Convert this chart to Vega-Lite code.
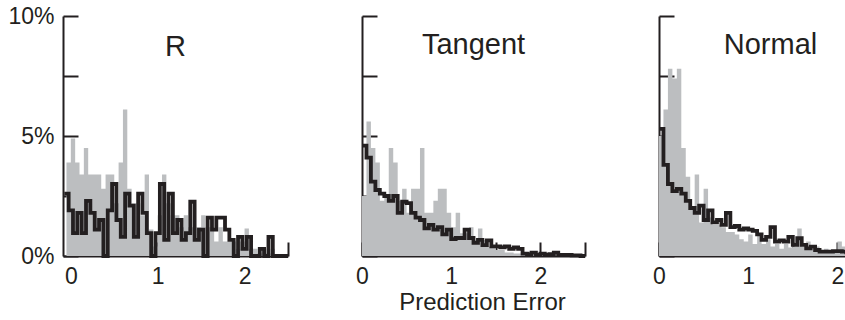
{
  "$schema": "https://vega.github.io/schema/vega-lite/v6.json",
  "background": "white",
  "padding": {"left": 7, "top": 5, "right": 0, "bottom": 0},
  "config": {
    "view": {"stroke": null},
    "font": "Liberation Sans",
    "axis": {
      "grid": false, "zindex": 1,
      "domainColor": "#231f20", "domainWidth": 2,
      "tickColor": "#231f20", "tickWidth": 2,
      "labelColor": "#231f20", "labelFont": "Liberation Sans", "labelFontSize": 23,
      "labelFlush": false, "labelOverlap": false,
      "titleColor": "#231f20", "titleFont": "Liberation Sans", "titleFontSize": 24, "titleFontWeight": "normal"
    },
    "axisY": {"minExtent": 0},
    "title": {"font": "Liberation Sans", "fontSize": 29, "fontWeight": "normal", "color": "#231f20", "anchor": "middle", "baseline": "alphabetic"}
  },
  "datasets": {
    "hist": [
      {"p":"R","s":"g","x":-0.05,"y":3.9},{"p":"R","s":"g","x":0,"y":4.9},{"p":"R","s":"g","x":0.05,"y":3.9},{"p":"R","s":"g","x":0.1,"y":3.4},{"p":"R","s":"g","x":0.15,"y":4.5},{"p":"R","s":"g","x":0.2,"y":3.4},{"p":"R","s":"g","x":0.25,"y":3.4},{"p":"R","s":"g","x":0.3,"y":3.4},{"p":"R","s":"g","x":0.35,"y":2.8},{"p":"R","s":"g","x":0.4,"y":3.4},
      {"p":"R","s":"g","x":0.45,"y":3.4},{"p":"R","s":"g","x":0.5,"y":2.2},{"p":"R","s":"g","x":0.55,"y":3.9},{"p":"R","s":"g","x":0.6,"y":6.1},{"p":"R","s":"g","x":0.65,"y":2.8},{"p":"R","s":"g","x":0.7,"y":2.2},{"p":"R","s":"g","x":0.75,"y":2.2},{"p":"R","s":"g","x":0.8,"y":1.7},{"p":"R","s":"g","x":0.85,"y":3.4},{"p":"R","s":"g","x":0.9,"y":1.1},
      {"p":"R","s":"g","x":0.95,"y":0.4},{"p":"R","s":"g","x":1.0,"y":1.7},{"p":"R","s":"g","x":1.05,"y":3.4},{"p":"R","s":"g","x":1.1,"y":2.2},{"p":"R","s":"g","x":1.15,"y":1.7},{"p":"R","s":"g","x":1.2,"y":1.7},{"p":"R","s":"g","x":1.25,"y":1.2},{"p":"R","s":"g","x":1.3,"y":1.7},{"p":"R","s":"g","x":1.35,"y":1.2},{"p":"R","s":"g","x":1.4,"y":1.2},
      {"p":"R","s":"g","x":1.45,"y":1.2},{"p":"R","s":"g","x":1.5,"y":1.7},{"p":"R","s":"g","x":1.55,"y":1.2},{"p":"R","s":"g","x":1.6,"y":1.2},{"p":"R","s":"g","x":1.65,"y":0.6},{"p":"R","s":"g","x":1.7,"y":1.2},{"p":"R","s":"g","x":1.75,"y":0.6},{"p":"R","s":"g","x":1.8,"y":0.6},{"p":"R","s":"g","x":1.85,"y":0.6},{"p":"R","s":"g","x":1.9,"y":0.3},
      {"p":"R","s":"g","x":1.95,"y":0.6},{"p":"R","s":"g","x":2.0,"y":1.15},{"p":"R","s":"g","x":2.05,"y":0.3},{"p":"R","s":"g","x":2.1,"y":0.3},{"p":"R","s":"g","x":2.15,"y":0.1},{"p":"R","s":"g","x":2.2,"y":0.3},{"p":"R","s":"g","x":2.25,"y":0.1},{"p":"R","s":"g","x":2.3,"y":0.3},{"p":"R","s":"g","x":2.35,"y":0},{"p":"R","s":"g","x":2.4,"y":0},
      {"p":"R","s":"g","x":2.45,"y":0},{"p":"R","s":"g","x":2.5,"y":0},

      {"p":"R","s":"k","x":-0.075,"y":2.6},{"p":"R","s":"k","x":-0.025,"y":1.9},{"p":"R","s":"k","x":0.025,"y":0.95},{"p":"R","s":"k","x":0.075,"y":1.8},{"p":"R","s":"k","x":0.125,"y":0.95},{"p":"R","s":"k","x":0.175,"y":2.3},{"p":"R","s":"k","x":0.225,"y":1.8},{"p":"R","s":"k","x":0.275,"y":1.1},{"p":"R","s":"k","x":0.325,"y":1.5},{"p":"R","s":"k","x":0.375,"y":0},
      {"p":"R","s":"k","x":0.425,"y":1.9},{"p":"R","s":"k","x":0.475,"y":3.0},{"p":"R","s":"k","x":0.525,"y":1.5},{"p":"R","s":"k","x":0.575,"y":0.8},{"p":"R","s":"k","x":0.625,"y":2.6},{"p":"R","s":"k","x":0.675,"y":2.1},{"p":"R","s":"k","x":0.725,"y":0.8},{"p":"R","s":"k","x":0.775,"y":2.6},{"p":"R","s":"k","x":0.825,"y":1.8},{"p":"R","s":"k","x":0.875,"y":0.95},
      {"p":"R","s":"k","x":0.925,"y":0},{"p":"R","s":"k","x":0.975,"y":0.95},{"p":"R","s":"k","x":1.025,"y":3.0},{"p":"R","s":"k","x":1.075,"y":0.67},{"p":"R","s":"k","x":1.125,"y":2.6},{"p":"R","s":"k","x":1.175,"y":0.95},{"p":"R","s":"k","x":1.225,"y":1.5},{"p":"R","s":"k","x":1.275,"y":0.67},{"p":"R","s":"k","x":1.325,"y":0.95},{"p":"R","s":"k","x":1.375,"y":2.26},
      {"p":"R","s":"k","x":1.425,"y":0.67},{"p":"R","s":"k","x":1.475,"y":1.1},{"p":"R","s":"k","x":1.525,"y":0},{"p":"R","s":"k","x":1.575,"y":1.6},{"p":"R","s":"k","x":1.625,"y":1.1},{"p":"R","s":"k","x":1.675,"y":1.6},{"p":"R","s":"k","x":1.725,"y":1.6},{"p":"R","s":"k","x":1.775,"y":1.1},{"p":"R","s":"k","x":1.825,"y":0.67},{"p":"R","s":"k","x":1.875,"y":0},
      {"p":"R","s":"k","x":1.925,"y":0.8},{"p":"R","s":"k","x":1.975,"y":0.3},{"p":"R","s":"k","x":2.025,"y":0.8},{"p":"R","s":"k","x":2.075,"y":0},{"p":"R","s":"k","x":2.125,"y":0},{"p":"R","s":"k","x":2.175,"y":0.3},{"p":"R","s":"k","x":2.225,"y":0},{"p":"R","s":"k","x":2.275,"y":0.8},{"p":"R","s":"k","x":2.325,"y":0},{"p":"R","s":"k","x":2.375,"y":0},
      {"p":"R","s":"k","x":2.425,"y":0},{"p":"R","s":"k","x":2.5,"y":0},

      {"p":"T","s":"g","x":0,"y":2.5},{"p":"T","s":"g","x":0.05,"y":5.6},{"p":"T","s":"g","x":0.1,"y":4.5},{"p":"T","s":"g","x":0.15,"y":3.9},{"p":"T","s":"g","x":0.2,"y":2.3},{"p":"T","s":"g","x":0.25,"y":2.5},{"p":"T","s":"g","x":0.3,"y":4.5},{"p":"T","s":"g","x":0.35,"y":3.9},{"p":"T","s":"g","x":0.4,"y":2.3},{"p":"T","s":"g","x":0.45,"y":2.8},
      {"p":"T","s":"g","x":0.5,"y":1.8},{"p":"T","s":"g","x":0.55,"y":2.8},{"p":"T","s":"g","x":0.6,"y":2.8},{"p":"T","s":"g","x":0.65,"y":4.5},{"p":"T","s":"g","x":0.7,"y":1.8},{"p":"T","s":"g","x":0.75,"y":1.8},{"p":"T","s":"g","x":0.8,"y":2.3},{"p":"T","s":"g","x":0.85,"y":2.8},{"p":"T","s":"g","x":0.9,"y":2.8},{"p":"T","s":"g","x":0.95,"y":1.8},
      {"p":"T","s":"g","x":1.0,"y":1.2},{"p":"T","s":"g","x":1.05,"y":1.8},{"p":"T","s":"g","x":1.1,"y":0.95},{"p":"T","s":"g","x":1.15,"y":0.95},{"p":"T","s":"g","x":1.2,"y":1.2},{"p":"T","s":"g","x":1.25,"y":0.67},{"p":"T","s":"g","x":1.3,"y":1.15},{"p":"T","s":"g","x":1.35,"y":0.67},{"p":"T","s":"g","x":1.4,"y":0.4},{"p":"T","s":"g","x":1.45,"y":0.4},
      {"p":"T","s":"g","x":1.5,"y":0.25},{"p":"T","s":"g","x":1.55,"y":0.25},{"p":"T","s":"g","x":1.6,"y":0.15},{"p":"T","s":"g","x":1.65,"y":0.15},{"p":"T","s":"g","x":1.7,"y":0.1},{"p":"T","s":"g","x":1.75,"y":0.1},{"p":"T","s":"g","x":1.8,"y":0.05},{"p":"T","s":"g","x":1.85,"y":0.1},{"p":"T","s":"g","x":1.9,"y":0.05},{"p":"T","s":"g","x":1.95,"y":0},
      {"p":"T","s":"g","x":2.0,"y":0.05},{"p":"T","s":"g","x":2.05,"y":0},{"p":"T","s":"g","x":2.1,"y":0},{"p":"T","s":"g","x":2.15,"y":0},{"p":"T","s":"g","x":2.2,"y":0},{"p":"T","s":"g","x":2.25,"y":0},{"p":"T","s":"g","x":2.3,"y":0},{"p":"T","s":"g","x":2.35,"y":0},{"p":"T","s":"g","x":2.4,"y":0},{"p":"T","s":"g","x":2.45,"y":0},
      {"p":"T","s":"g","x":2.5,"y":0},

      {"p":"T","s":"k","x":0,"y":4.6},{"p":"T","s":"k","x":0.05,"y":4.1},{"p":"T","s":"k","x":0.1,"y":3.1},{"p":"T","s":"k","x":0.15,"y":2.75},{"p":"T","s":"k","x":0.2,"y":2.6},{"p":"T","s":"k","x":0.25,"y":2.5},{"p":"T","s":"k","x":0.3,"y":2.3},{"p":"T","s":"k","x":0.35,"y":2.5},{"p":"T","s":"k","x":0.4,"y":1.8},{"p":"T","s":"k","x":0.45,"y":2.26},
      {"p":"T","s":"k","x":0.5,"y":2.2},{"p":"T","s":"k","x":0.55,"y":1.8},{"p":"T","s":"k","x":0.6,"y":1.6},{"p":"T","s":"k","x":0.65,"y":1.5},{"p":"T","s":"k","x":0.7,"y":1.15},{"p":"T","s":"k","x":0.75,"y":1.3},{"p":"T","s":"k","x":0.8,"y":1.1},{"p":"T","s":"k","x":0.85,"y":1.2},{"p":"T","s":"k","x":0.9,"y":0.9},{"p":"T","s":"k","x":0.95,"y":1.1},
      {"p":"T","s":"k","x":1.0,"y":0.7},{"p":"T","s":"k","x":1.05,"y":0.75},{"p":"T","s":"k","x":1.1,"y":0.75},{"p":"T","s":"k","x":1.15,"y":1.1},{"p":"T","s":"k","x":1.2,"y":0.75},{"p":"T","s":"k","x":1.25,"y":0.55},{"p":"T","s":"k","x":1.3,"y":0.67},{"p":"T","s":"k","x":1.35,"y":0.45},{"p":"T","s":"k","x":1.4,"y":0.65},{"p":"T","s":"k","x":1.45,"y":0.4},
      {"p":"T","s":"k","x":1.5,"y":0.4},{"p":"T","s":"k","x":1.55,"y":0.36},{"p":"T","s":"k","x":1.6,"y":0.4},{"p":"T","s":"k","x":1.65,"y":0.3},{"p":"T","s":"k","x":1.7,"y":0.36},{"p":"T","s":"k","x":1.75,"y":0.3},{"p":"T","s":"k","x":1.8,"y":0.1},{"p":"T","s":"k","x":1.85,"y":0.08},{"p":"T","s":"k","x":1.9,"y":0.14},{"p":"T","s":"k","x":1.95,"y":0.05},
      {"p":"T","s":"k","x":2.0,"y":0.1},{"p":"T","s":"k","x":2.05,"y":0.05},{"p":"T","s":"k","x":2.1,"y":0.08},{"p":"T","s":"k","x":2.15,"y":0.14},{"p":"T","s":"k","x":2.2,"y":0.05},{"p":"T","s":"k","x":2.25,"y":0.05},{"p":"T","s":"k","x":2.3,"y":0.05},{"p":"T","s":"k","x":2.35,"y":0.03},{"p":"T","s":"k","x":2.4,"y":0.03},{"p":"T","s":"k","x":2.45,"y":0},
      {"p":"T","s":"k","x":2.5,"y":0},

      {"p":"N","s":"g","x":0,"y":5.0},{"p":"N","s":"g","x":0.05,"y":6.1},{"p":"N","s":"g","x":0.1,"y":7.8},{"p":"N","s":"g","x":0.15,"y":7.4},{"p":"N","s":"g","x":0.2,"y":7.8},{"p":"N","s":"g","x":0.25,"y":4.5},{"p":"N","s":"g","x":0.3,"y":3.3},{"p":"N","s":"g","x":0.35,"y":2.0},{"p":"N","s":"g","x":0.4,"y":3.4},{"p":"N","s":"g","x":0.45,"y":1.4},
      {"p":"N","s":"g","x":0.5,"y":2.8},{"p":"N","s":"g","x":0.55,"y":1.6},{"p":"N","s":"g","x":0.6,"y":1.3},{"p":"N","s":"g","x":0.65,"y":1.3},{"p":"N","s":"g","x":0.7,"y":1.2},{"p":"N","s":"g","x":0.75,"y":1.0},{"p":"N","s":"g","x":0.8,"y":1.0},{"p":"N","s":"g","x":0.85,"y":0.9},{"p":"N","s":"g","x":0.9,"y":0.7},{"p":"N","s":"g","x":0.95,"y":0.6},
      {"p":"N","s":"g","x":1.0,"y":0.9},{"p":"N","s":"g","x":1.05,"y":0.5},{"p":"N","s":"g","x":1.1,"y":0.9},{"p":"N","s":"g","x":1.15,"y":0.5},{"p":"N","s":"g","x":1.2,"y":0.7},{"p":"N","s":"g","x":1.25,"y":0.4},{"p":"N","s":"g","x":1.3,"y":0.5},{"p":"N","s":"g","x":1.35,"y":0.3},{"p":"N","s":"g","x":1.4,"y":0.5},{"p":"N","s":"g","x":1.45,"y":0.35},
      {"p":"N","s":"g","x":1.5,"y":0.4},{"p":"N","s":"g","x":1.55,"y":1.15},{"p":"N","s":"g","x":1.6,"y":0.4},{"p":"N","s":"g","x":1.65,"y":0.6},{"p":"N","s":"g","x":1.7,"y":0.3},{"p":"N","s":"g","x":1.75,"y":0.4},{"p":"N","s":"g","x":1.8,"y":0.2},{"p":"N","s":"g","x":1.85,"y":0.3},{"p":"N","s":"g","x":1.9,"y":0.2},{"p":"N","s":"g","x":1.95,"y":0.15},
      {"p":"N","s":"g","x":2.0,"y":0.6},{"p":"N","s":"g","x":2.05,"y":0.4},{"p":"N","s":"g","x":2.1,"y":0.2},{"p":"N","s":"g","x":2.15,"y":0.15},{"p":"N","s":"g","x":2.2,"y":0.1},{"p":"N","s":"g","x":2.25,"y":0.1},{"p":"N","s":"g","x":2.3,"y":0.1},{"p":"N","s":"g","x":2.35,"y":0.1},{"p":"N","s":"g","x":2.4,"y":0.1},{"p":"N","s":"g","x":2.45,"y":0.1},
      {"p":"N","s":"g","x":2.5,"y":0.1},

      {"p":"N","s":"k","x":0,"y":5.3},{"p":"N","s":"k","x":0.05,"y":3.8},{"p":"N","s":"k","x":0.1,"y":3.0},{"p":"N","s":"k","x":0.15,"y":2.7},{"p":"N","s":"k","x":0.2,"y":2.8},{"p":"N","s":"k","x":0.25,"y":2.6},{"p":"N","s":"k","x":0.3,"y":2.3},{"p":"N","s":"k","x":0.35,"y":2.0},{"p":"N","s":"k","x":0.4,"y":1.8},{"p":"N","s":"k","x":0.45,"y":2.1},
      {"p":"N","s":"k","x":0.5,"y":1.5},{"p":"N","s":"k","x":0.55,"y":1.9},{"p":"N","s":"k","x":0.6,"y":1.4},{"p":"N","s":"k","x":0.65,"y":1.5},{"p":"N","s":"k","x":0.7,"y":1.3},{"p":"N","s":"k","x":0.75,"y":1.8},{"p":"N","s":"k","x":0.8,"y":1.2},{"p":"N","s":"k","x":0.85,"y":1.25},{"p":"N","s":"k","x":0.9,"y":1.1},{"p":"N","s":"k","x":0.95,"y":1.15},
      {"p":"N","s":"k","x":1.0,"y":1.1},{"p":"N","s":"k","x":1.05,"y":1.05},{"p":"N","s":"k","x":1.1,"y":0.9},{"p":"N","s":"k","x":1.15,"y":0.67},{"p":"N","s":"k","x":1.2,"y":0.8},{"p":"N","s":"k","x":1.25,"y":1.2},{"p":"N","s":"k","x":1.3,"y":0.6},{"p":"N","s":"k","x":1.35,"y":0.65},{"p":"N","s":"k","x":1.4,"y":0.6},{"p":"N","s":"k","x":1.45,"y":0.8},
      {"p":"N","s":"k","x":1.5,"y":0.46},{"p":"N","s":"k","x":1.55,"y":0.74},{"p":"N","s":"k","x":1.6,"y":0.46},{"p":"N","s":"k","x":1.65,"y":0.32},{"p":"N","s":"k","x":1.7,"y":0.39},{"p":"N","s":"k","x":1.75,"y":0.25},{"p":"N","s":"k","x":1.8,"y":0.18},{"p":"N","s":"k","x":1.85,"y":0.18},{"p":"N","s":"k","x":1.9,"y":0.18},{"p":"N","s":"k","x":1.95,"y":0.2},
      {"p":"N","s":"k","x":2.0,"y":0.2},{"p":"N","s":"k","x":2.05,"y":0.18},{"p":"N","s":"k","x":2.1,"y":0.15},{"p":"N","s":"k","x":2.15,"y":0.15},{"p":"N","s":"k","x":2.2,"y":0.12},{"p":"N","s":"k","x":2.25,"y":0.12},{"p":"N","s":"k","x":2.3,"y":0.1},{"p":"N","s":"k","x":2.35,"y":0.1},{"p":"N","s":"k","x":2.4,"y":0.08},{"p":"N","s":"k","x":2.45,"y":0.05},
      {"p":"N","s":"k","x":2.5,"y":0}
    ]
  },
  "data": {"name": "hist"},
  "spacing": 58,
  "hconcat": [
    {
      "width": 225, "height": 240,
      "title": {"text": "R", "offset": -57},
      "transform": [{"filter": "datum.p === 'R'"}],
      "encoding": {
        "x": {"field": "x", "type": "quantitative", "title": null,
              "scale": {"domain": [-0.09, 2.5], "nice": false, "zero": false},
              "axis": {"values": [0, 0.5, 1, 1.5, 2, 2.5], "tickSize": -14, "labelPadding": 23,
                       "labelExpr": "datum.value % 1 === 0 ? format(datum.value, 'd') : ''"}},
        "y": {"field": "y", "type": "quantitative", "title": null,
              "scale": {"domain": [0, 10], "nice": false},
              "axis": {"values": [0, 2.5, 5, 7.5, 10], "tickSize": -15, "labelPadding": 24,
                       "labelExpr": "datum.value % 5 === 0 ? datum.value + '%' : ''"}}
      },
      "layer": [
        {"transform": [{"filter": "datum.s === 'g'"}], "mark": {"type": "area", "interpolate": "step-after", "color": "#bcbec0"}},
        {"transform": [{"filter": "datum.s === 'k'"}], "mark": {"type": "line", "interpolate": "step-after", "color": "#231f20", "strokeWidth": 3.8}}
      ]
    },
    {
      "width": 223, "height": 240,
      "title": {"text": "Tangent", "offset": -45},
      "transform": [{"filter": "datum.p === 'T'"}],
      "encoding": {
        "x": {"field": "x", "type": "quantitative", "title": "Prediction Error",
              "scale": {"domain": [0, 2.5], "nice": false},
              "axis": {"values": [0, 0.5, 1, 1.5, 2, 2.5], "tickSize": -14, "labelPadding": 23, "titlePadding": 2, "titleX": 120,
                       "labelExpr": "datum.value % 1 === 0 ? format(datum.value, 'd') : ''"}},
        "y": {"field": "y", "type": "quantitative", "title": null,
              "scale": {"domain": [0, 10], "nice": false},
              "axis": {"values": [0, 2.5, 5, 7.5, 10], "tickSize": -15, "labels": false}}
      },
      "layer": [
        {"transform": [{"filter": "datum.s === 'g'"}], "mark": {"type": "area", "interpolate": "step-after", "color": "#bcbec0"}},
        {"transform": [{"filter": "datum.s === 'k'"}], "mark": {"type": "line", "interpolate": "step-after", "color": "#231f20", "strokeWidth": 3.8}}
      ]
    },
    {
      "width": 223, "height": 240,
      "title": {"text": "Normal", "offset": -45},
      "transform": [{"filter": "datum.p === 'N'"}],
      "encoding": {
        "x": {"field": "x", "type": "quantitative", "title": null,
              "scale": {"domain": [0, 2.5], "nice": false},
              "axis": {"values": [0, 0.5, 1, 1.5, 2, 2.5], "tickSize": -14, "labelPadding": 23,
                       "labelExpr": "datum.value % 1 === 0 ? format(datum.value, 'd') : ''"}},
        "y": {"field": "y", "type": "quantitative", "title": null,
              "scale": {"domain": [0, 10], "nice": false},
              "axis": {"values": [0, 2.5, 5, 7.5, 10], "tickSize": -15, "labels": false}}
      },
      "layer": [
        {"transform": [{"filter": "datum.s === 'g'"}], "mark": {"type": "area", "interpolate": "step-after", "color": "#bcbec0"}},
        {"transform": [{"filter": "datum.s === 'k'"}], "mark": {"type": "line", "interpolate": "step-after", "color": "#231f20", "strokeWidth": 3.8}}
      ]
    }
  ]
}
